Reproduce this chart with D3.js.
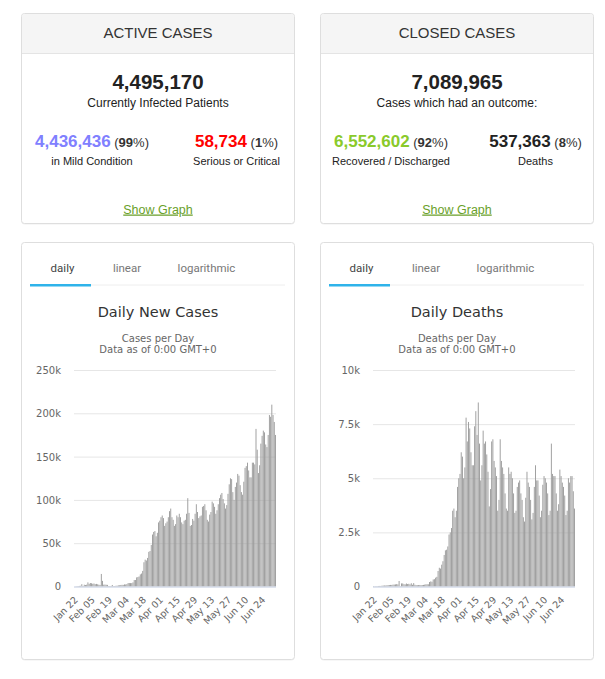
<!DOCTYPE html>
<html>
<head>
<meta charset="utf-8">
<script src="https://cdn.jsdelivr.net/npm/d3@7"></script>
<style>
html, body { margin: 0; padding: 0; background: #fff; }
svg { display: block; }
</style>
</head>
<body>
<script>
// days covered by both bar charts
var firstDay = new Date(2020, 0, 22),
	lastDay = new Date(2020, 6, 5);

// daily new cases, one array per month
var casesJan = [0, 100, 290, 490, 680, 810, 2650, 590, 2070, 1690];
var casesFeb = [2110, 4750, 3090, 4010, 3740, 3160, 3440, 2680, 3000, 2550, 2070, 1820, 14500, 6500, 2150,
	2190, 2030, 1880, 500, 560, 620, 1760, 380, 570, 850, 940, 1270, 1390, 1780];
var casesMar = [1920, 1860, 2440, 2340, 2750, 3980, 3980, 3920, 3950, 4740, 7450, 7500, 10500, 10900, 11600,
	14000, 15000, 18000, 28000, 31000, 30000, 33000, 40000, 41000, 48000, 60000, 63000, 64000, 58000, 62000, 74000];
var casesApr = [76000, 80000, 82000, 79000, 70000, 73000, 75000, 80000, 87000, 90000, 80000, 77000, 70000, 72000, 82000,
	80000, 84000, 80000, 74000, 72000, 76000, 77000, 84000, 102000, 85000, 70000, 71000, 78000, 76000, 84000];
var casesMay = [95000, 86000, 79000, 81000, 82000, 92000, 93000, 95000, 88000, 77000, 75000, 83000, 86000, 98000, 96000,
	92000, 84000, 88000, 95000, 102000, 106000, 108000, 101000, 96000, 90000, 94000, 107000, 118000, 125000, 124000, 109000];
var casesJun = [100000, 115000, 120000, 130000, 128000, 117000, 109000, 106000, 121000, 137000, 139000, 143000, 134000, 126000, 126000,
	143000, 143000, 141000, 182000, 158000, 131000, 140000, 165000, 174000, 180000, 178000, 164000, 161000, 175000, 198000];
var casesJul = [196000, 210000, 198000, 190000, 175000];

// daily deaths, one array per month
var deathsJan = [17, 8, 16, 14, 24, 26, 26, 38, 43, 46];
var deathsFeb = [45, 57, 64, 66, 73, 73, 86, 89, 97, 108, 97, 254, 13, 143, 142,
	106, 98, 139, 115, 125, 97, 150, 79, 157, 80, 63, 59, 66, 71];
var deathsMar = [65, 68, 73, 87, 101, 104, 103, 207, 235, 220, 324, 338, 407, 447, 716,
	866, 828, 1008, 1167, 1456, 1670, 1700, 1850, 2400, 2500, 2700, 3500, 3600, 3200, 3500, 4600];
var deathsApr = [5000, 5200, 6200, 6000, 5000, 5500, 7800, 6700, 7600, 7300, 6200, 5600, 5600, 7400, 8100,
	7000, 8500, 6600, 4900, 5600, 7200, 6600, 6700, 6100, 5300, 3700, 4500, 6700, 6800, 5800];
var deathsMay = [5500, 5100, 3500, 4000, 6800, 5800, 5500, 5200, 4300, 3600, 3500, 5500, 5200, 5300, 5000,
	4300, 3400, 3500, 4600, 4800, 4900, 4300, 4000, 3200, 3000, 4100, 5300, 4800, 4600, 4000, 3100];
var deathsJun = [3400, 4600, 5600, 4900, 4900, 4200, 3200, 3500, 4700, 5100, 5000, 4800, 4300, 3300, 3500,
	6600, 5200, 5100, 5100, 4300, 3500, 3800, 5400, 5100, 4800, 4600, 4200, 3300, 3500, 5000];
var deathsJul = [4800, 5100, 5100, 4400, 3600];

var newCases = [].concat(casesJan, casesFeb, casesMar, casesApr, casesMay, casesJun, casesJul);
var newDeaths = [].concat(deathsJan, deathsFeb, deathsMar, deathsApr, deathsMay, deathsJun, deathsJul);

var caseTicks = [0, 50000, 100000, 150000, 200000, 250000];
var deathTicks = [0, 2500, 5000, 7500, 10000];
var tabNames = ["daily", "linear", "logarithmic"];

// summary boxes
var activeBox = ["ACTIVE CASES", "4,495,170", "Currently Infected Patients"];
var activeParts = [
	{ value: "4,436,436", pct: "99", label: "in Mild Condition", color: "#8080ff" },
	{ value: "58,734", pct: "1", label: "Serious or Critical", color: "#ff0000" }
];
var closedBox = ["CLOSED CASES", "7,089,965", "Cases which had an outcome:"];
var closedParts = [
	{ value: "6,552,602", pct: "92", label: "Recovered / Discharged", color: "#8aca2b" },
	{ value: "537,363", pct: "8", label: "Deaths", color: "#222" }
];

var boxFont = "'Liberation Sans', Arial, Helvetica, sans-serif",
	chartFont = "'DejaVu Sans', 'Lucida Grande', Verdana, sans-serif",
	tabFont = "Roboto, 'Liberation Sans', Arial, sans-serif";

var svg = d3.select("body").append("svg")
	.attr("width", 605)
	.attr("height", 679);

var days = d3.timeDay.range(firstDay, d3.timeDay.offset(lastDay, 1));
var fmtDay = d3.timeFormat("%b %d");

function panel(x, y, w, h) {
	var g = svg.append("g").attr("transform", "translate(" + x + "," + y + ")");
	g.append("rect").attr("x", 0.5).attr("y", 1.5).attr("width", w).attr("height", h)
		.attr("rx", 3).attr("fill", "#f0f0f0");
	g.append("rect").attr("x", 0.5).attr("y", 0.5).attr("width", w).attr("height", h)
		.attr("rx", 3).attr("fill", "#fff").attr("stroke", "#dedede");
	return g;
}

function statBox(x, y, head, parts) {
	var w = 273, h = 210;
	var g = panel(x, y, w, h);
	g.append("path")
		.attr("d", "M1,40 V4 Q1,1 4,1 H" + (w - 3) + " Q" + w + ",1 " + w + ",4 V40 Z")
		.attr("fill", "#f5f5f5");
	g.append("line").attr("x1", 1).attr("x2", w).attr("y1", 40.5).attr("y2", 40.5)
		.attr("stroke", "#e4e4e4");

	var cx = w / 2 + 0.5;
	g.append("text").attr("x", cx).attr("y", 25).text(head[0])
		.attr("font-size", 15).attr("fill", "#333");
	g.append("text").attr("x", cx).attr("y", 76).text(head[1])
		.attr("font-size", 20.5).attr("font-weight", "bold").attr("fill", "#222");
	g.append("text").attr("x", cx).attr("y", 94).text(head[2])
		.attr("font-size", 12).attr("fill", "#222");

	var colX = [71, 215.5];
	parts.forEach(function (p, i) {
		var t = g.append("text").attr("x", colX[i]).attr("y", 134);
		t.append("tspan").text(p.value).attr("font-size", 17).attr("font-weight", "bold").attr("fill", p.color);
		t.append("tspan").text(" (").attr("font-size", 13).attr("fill", "#333");
		t.append("tspan").text(p.pct).attr("font-size", 13).attr("font-weight", "bold").attr("fill", "#333");
		t.append("tspan").text("%)").attr("font-size", 13).attr("fill", "#333");
		g.append("text").attr("x", colX[i]).attr("y", 152).text(p.label)
			.attr("font-size", 11).attr("fill", "#222");
	});

	g.append("text").attr("x", cx).attr("y", 200.5).text("Show Graph")
		.attr("font-size", 12.5).attr("fill", "#6a9f2a").attr("text-decoration", "underline");

	g.selectAll("text").attr("text-anchor", "middle").attr("font-family", boxFont);
}

function chartBox(x, y, title, sub, values, ticks) {
	var w = 273, h = 417;
	var g = panel(x, y, w, h);

	// tab strip
	var tabX = [41.5, 106, 185.5];
	g.selectAll(".tab").data(tabNames).join("text")
		.attr("class", "tab")
		.attr("x", function (d, i) { return tabX[i]; })
		.attr("y", 29.5)
		.attr("text-anchor", "middle")
		.attr("font-family", tabFont)
		.attr("font-size", 11.5)
		.attr("fill", function (d, i) { return i == 0 ? "#444" : "#777"; })
		.text(function (d) { return d; });
	g.append("line").attr("x1", 70).attr("x2", 264).attr("y1", 43).attr("y2", 43)
		.attr("stroke", "#eeeeee");
	g.append("rect").attr("x", 9).attr("y", 42).attr("width", 61).attr("height", 2.5)
		.attr("fill", "#2fb3ea");

	g.append("text").attr("x", w / 2 + 0.5).attr("y", 75).text(title)
		.attr("font-size", 14.5).attr("fill", "#333");
	g.append("text").attr("x", w / 2 + 0.5).attr("y", 100).text(sub)
		.attr("font-size", 10).attr("fill", "#666");
	g.append("text").attr("x", w / 2 + 0.5).attr("y", 111).text("Data as of 0:00 GMT+0")
		.attr("font-size", 10).attr("fill", "#666");
	g.selectAll("text:not(.tab)").attr("text-anchor", "middle").attr("font-family", chartFont);

	var left = 53, right = w - 18, top = 128, bottom = 344.5;

	var xs = d3.scaleBand().domain(d3.range(values.length))
		.range([left, right]).paddingInner(0.25).paddingOuter(0.05);
	var ys = d3.scaleLinear().domain([0, ticks[ticks.length - 1]]).range([bottom, top]);

	var yAxis = g.append("g").attr("transform", "translate(" + left + ",0)")
		.call(d3.axisLeft(ys).tickValues(ticks)
			.tickSize(-(right - left)).tickPadding(13)
			.tickFormat(function (v) { return v == 0 ? "0" : (v / 1000) + "k"; }));
	yAxis.select(".domain").remove();
	yAxis.selectAll("line").attr("stroke", "#e6e6e6");
	yAxis.selectAll("text").attr("fill", "#666").attr("font-size", 10)
		.attr("font-family", chartFont).attr("dy", "0.34em");

	g.selectAll(".bar").data(values).join("rect")
		.attr("class", "bar")
		.attr("x", function (d, i) { return xs(i); })
		.attr("y", function (d) { return ys(d); })
		.attr("width", xs.bandwidth())
		.attr("height", function (d) { return bottom - ys(d); })
		.attr("fill", "#999");

	g.append("line").attr("x1", left).attr("x2", right).attr("y1", bottom + 0.5).attr("y2", bottom + 0.5)
		.attr("stroke", "#ccd6eb");

	var tickIdx = d3.range(0, values.length, 14);
	var xAxis = g.append("g").attr("transform", "translate(0," + bottom + ")")
		.call(d3.axisBottom(xs).tickValues(tickIdx).tickSize(0)
			.tickFormat(function (i) { return fmtDay(days[i]); }));
	xAxis.select(".domain").remove();
	xAxis.selectAll("text")
		.attr("x", 4).attr("y", 14).attr("dy", 0)
		.attr("text-anchor", "end")
		.attr("transform", "rotate(-45 4 14)")
		.attr("fill", "#666").attr("font-size", 9.5)
		.attr("font-family", chartFont);
}

statBox(21, 13, activeBox, activeParts);
statBox(320, 13, closedBox, closedParts);
chartBox(21, 242, "Daily New Cases", "Cases per Day", newCases, caseTicks);
chartBox(320, 242, "Daily Deaths", "Deaths per Day", newDeaths, deathTicks);
</script>
</body>
</html>
